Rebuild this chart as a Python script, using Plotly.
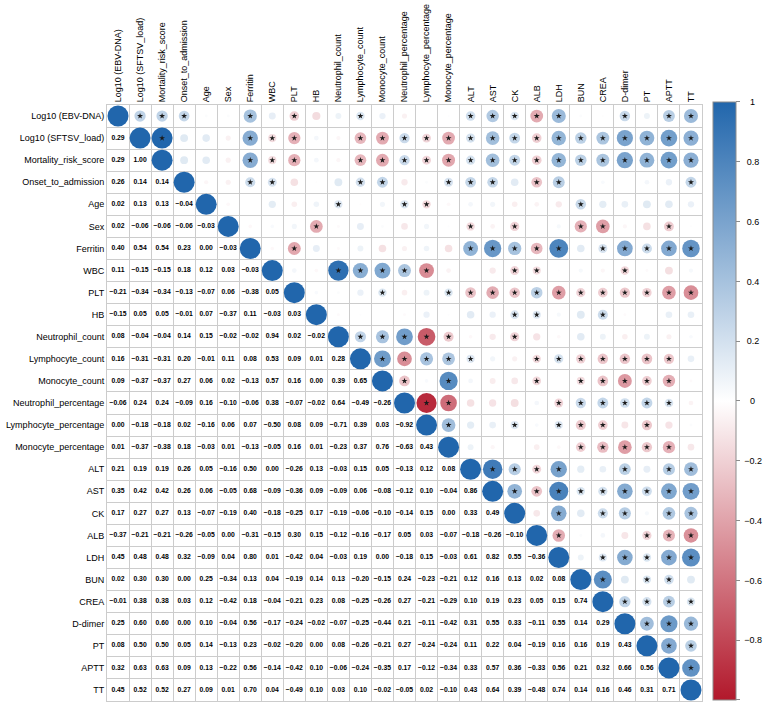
import math
import plotly.graph_objects as go

variables = ["Log10 (EBV-DNA)", "Log10 (SFTSV_load)", "Mortality_risk_score", "Onset_to_admission",
             "Age", "Sex", "Ferritin", "WBC", "PLT", "HB", "Neutrophil_count", "Lymphocyte_count",
             "Monocyte_count", "Neutrophil_percentage", "Lymphocyte_percentage", "Monocyte_percentage",
             "ALT", "AST", "CK", "ALB", "LDH", "BUN", "CREA", "D-dimer", "PT", "APTT", "TT"]

# lower triangle of the correlation matrix (row i holds columns 0..i-1)
lower = [
    [],
    [0.29],
    [0.29, 1.00],
    [0.26, 0.14, 0.14],
    [0.02, 0.13, 0.13, -0.04],
    [0.02, -0.06, -0.06, -0.06, -0.03],
    [0.40, 0.54, 0.54, 0.23, 0.00, -0.03],
    [0.11, -0.15, -0.15, 0.18, 0.12, 0.03, -0.03],
    [-0.21, -0.34, -0.34, -0.13, -0.07, 0.06, -0.38, 0.05],
    [-0.15, 0.05, 0.05, -0.01, 0.07, -0.37, 0.11, -0.03, 0.03],
    [0.08, -0.04, -0.04, 0.14, 0.15, -0.02, -0.02, 0.94, 0.02, -0.02],
    [0.16, -0.31, -0.31, 0.20, -0.01, 0.11, 0.08, 0.53, 0.09, 0.01, 0.28],
    [0.09, -0.37, -0.37, 0.27, 0.06, 0.02, -0.13, 0.57, 0.16, 0.00, 0.39, 0.65],
    [-0.06, 0.24, 0.24, -0.09, 0.16, -0.10, -0.06, 0.38, -0.07, -0.02, 0.64, -0.49, -0.26],
    [0.00, -0.18, -0.18, 0.02, -0.16, 0.06, 0.07, -0.50, 0.08, 0.09, -0.71, 0.39, 0.03, -0.92],
    [0.01, -0.37, -0.38, 0.18, -0.03, 0.01, -0.13, -0.05, 0.16, 0.01, -0.23, 0.37, 0.76, -0.63, 0.43],
    [0.21, 0.19, 0.19, 0.26, 0.05, -0.16, 0.50, 0.00, -0.26, 0.13, -0.03, 0.15, 0.05, -0.13, 0.12, 0.08],
    [0.35, 0.42, 0.42, 0.26, 0.06, -0.05, 0.68, -0.09, -0.36, 0.09, -0.09, 0.06, -0.08, -0.12, 0.10, -0.04, 0.86],
    [0.17, 0.27, 0.27, 0.13, -0.07, -0.19, 0.40, -0.18, -0.25, 0.17, -0.19, -0.06, -0.10, -0.14, 0.15, 0.00, 0.33, 0.49],
    [-0.37, -0.21, -0.21, -0.26, -0.05, 0.00, -0.31, -0.15, 0.30, 0.15, -0.12, -0.16, -0.17, 0.05, 0.03, -0.07, -0.18, -0.26, -0.10],
    [0.45, 0.48, 0.48, 0.32, -0.09, 0.04, 0.80, 0.01, -0.42, 0.04, -0.03, 0.19, 0.00, -0.18, 0.15, -0.03, 0.61, 0.82, 0.55, -0.36],
    [0.02, 0.30, 0.30, 0.00, 0.25, -0.34, 0.13, 0.04, -0.19, 0.14, 0.13, -0.20, -0.15, 0.24, -0.23, -0.21, 0.12, 0.16, 0.13, 0.02, 0.08],
    [-0.01, 0.38, 0.38, 0.03, 0.12, -0.42, 0.18, -0.04, -0.21, 0.23, 0.08, -0.25, -0.26, 0.27, -0.21, -0.29, 0.10, 0.19, 0.23, 0.05, 0.15, 0.74],
    [0.25, 0.60, 0.60, 0.00, 0.10, -0.04, 0.56, -0.17, -0.24, -0.02, -0.07, -0.25, -0.44, 0.21, -0.11, -0.42, 0.31, 0.55, 0.33, -0.11, 0.55, 0.14, 0.29],
    [0.08, 0.50, 0.50, 0.05, 0.14, -0.13, 0.23, -0.02, -0.20, 0.00, 0.08, -0.26, -0.21, 0.27, -0.24, -0.24, 0.11, 0.22, 0.04, -0.19, 0.16, 0.16, 0.19, 0.43],
    [0.32, 0.63, 0.63, 0.09, 0.13, -0.22, 0.56, -0.14, -0.42, 0.10, -0.06, -0.24, -0.35, 0.17, -0.12, -0.34, 0.33, 0.57, 0.36, -0.33, 0.56, 0.21, 0.32, 0.66, 0.56],
    [0.45, 0.52, 0.52, 0.27, 0.09, 0.01, 0.70, 0.04, -0.49, 0.10, 0.03, 0.10, -0.02, -0.05, 0.02, -0.10, 0.43, 0.64, 0.39, -0.48, 0.74, 0.14, 0.16, 0.46, 0.31, 0.71],
]

# significant pairs (p < 0.05) marked with a star in the upper triangle: row -> columns
significant = {
    0: [1, 2, 3, 6, 8, 11, 16, 17, 18, 19, 20, 23, 25, 26],
    1: [2, 6, 7, 8, 11, 12] + list(range(13, 27)),
    2: [6, 7, 8, 11, 12] + list(range(13, 27)),
    3: [6, 7, 11, 12, 15, 16, 17, 19, 20, 26],
    4: [10, 13, 14, 21],
    5: [9, 16, 18, 21, 22, 25],
    6: [8, 16, 17, 18, 19, 20, 22, 23, 24, 25, 26],
    7: [10, 11, 12, 13, 14, 18, 19, 23],
    8: [12] + list(range(15, 27)),
    9: [18, 19, 22],
    10: [11, 12, 13, 14, 15, 18],
    11: [12, 13, 14, 15, 16, 19, 20, 21, 22, 23, 24, 25],
    12: [13, 15, 19, 21, 22, 23, 24, 25],
    13: [14, 15, 20, 21, 22, 23, 24, 25],
    14: [15, 18, 20, 21, 22, 24],
    15: [21, 22, 23, 24, 25],
    16: [17, 18, 19, 20, 23, 25, 26],
    17: [18, 19, 20, 21, 22, 23, 24, 25, 26],
    18: [20, 22, 23, 25, 26],
    19: [20, 24, 25, 26],
    20: [22, 23, 24, 25, 26],
    21: [22, 24, 25],
    22: [23, 24, 25, 26],
    23: [24, 25, 26],
    24: [25, 26],
    25: [26],
}

colorbar_ticks = [1, 0.8, 0.6, 0.4, 0.2, 0, -0.2, -0.4, -0.6, -0.8, -1]

n = len(variables)


def corr(i, j):
    if i == j:
        return 1.0
    return lower[max(i, j)][min(i, j)]


def fmt(v):
    s = f"{abs(v):.2f}"
    return ("\u2212" + s) if v < 0 else s


# circles (upper triangle + diagonal)
cx, cy, cv, cs = [], [], [], []
for i in range(n):
    for j in range(i, n):
        v = corr(i, j)
        cx.append(j)
        cy.append(i)
        cv.append(v)
        cs.append(21 * math.sqrt(abs(v)))

# numbers (lower triangle)
tx, ty, tt = [], [], []
for i in range(n):
    for j in range(i):
        tx.append(j)
        ty.append(i)
        tt.append(fmt(lower[i][j]))

# stars
sx, sy = [], []
for i, cols in significant.items():
    for j in cols:
        sx.append(j)
        sy.append(i)


def cb_label(v):
    pad = "\u2008"
    if v == 0 or v == 1:
        return pad + "\u2007\u200a" + str(v)
    if v == -1:
        return pad + "\u2008\u2212" + "1"
    s = f"{abs(v):.1f}"
    return pad + (("\u2212" + s) if v < 0 else ("\u2008" + s))


fig = go.Figure()
fig.add_trace(go.Scatter(
    x=cx, y=cy, mode="markers", hoverinfo="skip", showlegend=False,
    marker=dict(
        size=cs, color=cv, cmin=-1, cmax=1, opacity=1,
        colorscale=[[0, "#B2182B"], [0.5, "#FFFFFF"], [1, "#2166AC"]],
        line=dict(width=0),
        colorbar=dict(
            thickness=23, thicknessmode="pixels",
            len=598, lenmode="pixels",
            x=1.0185, xanchor="left", y=0.5034, yanchor="middle",
            xpad=0, ypad=0,
            outlinewidth=1, outlinecolor="#8c8c8c",
            tickmode="array", tickvals=colorbar_ticks,
            ticktext=[cb_label(v) for v in colorbar_ticks],
            ticks="outside", ticklen=4, tickcolor="#8c8c8c", tickwidth=1,
            tickfont=dict(family="Liberation Sans", size=9, color="#000000"),
        ),
    ),
))
fig.add_trace(go.Scatter(
    x=sx, y=sy, mode="markers", hoverinfo="skip", showlegend=False,
    marker=dict(symbol="star", size=4.5, color="#1a1a1a", opacity=1,
                line=dict(width=0)),
))
fig.add_trace(go.Scatter(
    x=tx, y=ty, mode="text", text=tt, hoverinfo="skip", showlegend=False,
    textposition="middle center",
    textfont=dict(family="Liberation Sans", size=6.8, color="#000000", weight="bold"),
))

grid_vals = [k - 0.5 for k in range(n + 1)]
axis_common = dict(
    tickmode="array", tickvals=list(range(n)), ticktext=variables,
    ticks="", showgrid=False, zeroline=False,
    showline=True, mirror=True, linecolor="#cccccc", linewidth=1,
    tickfont=dict(family="Liberation Sans", size=9, color="#000000"),
    minor=dict(tickmode="array", tickvals=grid_vals, showgrid=True,
               gridcolor="#cccccc", gridwidth=1, ticks=""),
    fixedrange=True,
)
fig.update_layout(
    width=774, height=705,
    margin=dict(l=107, r=72, t=105, b=4),
    paper_bgcolor="white", plot_bgcolor="white",
    font=dict(family="Liberation Sans"),
    xaxis=dict(range=[-0.5, n - 0.5], side="top", tickangle=-90, **axis_common),
    yaxis=dict(range=[n - 0.5, -0.5], **axis_common),
)

fig.write_html("out.html")
